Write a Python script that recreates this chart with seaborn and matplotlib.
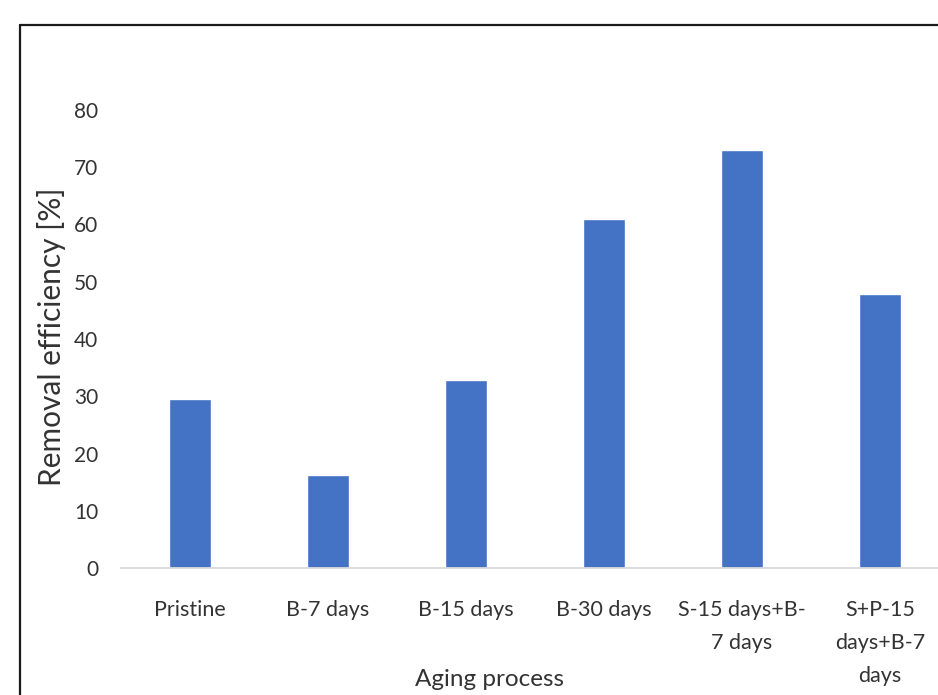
import matplotlib
matplotlib.use("Agg")
import matplotlib.pyplot as plt
from matplotlib.lines import Line2D
import seaborn as sns
import pandas as pd

categories = ["Pristine", "B-7 days", "B-15 days", "B-30 days",
              "S-15 days+B-\n7 days", "S+P-15\ndays+B-7\ndays"]
values = [29.5, 16.2, 32.8, 60.9, 73.0, 47.9]
yticks = [0, 10, 20, 30, 40, 50, 60, 70, 80]

sns.set_theme(style="white")
plt.rcParams['font.family'] = ['Lato', 'DejaVu Sans']

W, H = 938, 695
fig = plt.figure(figsize=(W / 100, H / 100), dpi=100)
left, right, bottom, top = 121, 949, 568, 110
ax = fig.add_axes([left / W, (H - bottom) / H, (right - left) / W, (bottom - top) / H])

df = pd.DataFrame({"cat": categories, "val": values})
sns.barplot(data=df, x="cat", y="val", color="#4472C4", saturation=1,
            width=0.31, ax=ax)

ax.set_ylim(0, 80)
ax.set_xlim(-0.5, len(categories) - 0.5)
ax.set_yticks(yticks)
ax.set_yticklabels([str(t) for t in yticks], fontsize=15, color="#333333")
ax.tick_params(axis="y", length=0, pad=16.5)
ax.tick_params(axis="x", length=0, pad=23)
for lab in ax.get_xticklabels():
    lab.set_fontsize(15.5)
    lab.set_color("#333333")
    lab.set_linespacing(1.8)
    lab.set_multialignment("center")

for s in ["top", "right", "left"]:
    ax.spines[s].set_visible(False)
ax.spines["bottom"].set_color("#D9D9D9")
ax.spines["bottom"].set_linewidth(1.3)

ax.set_xlabel("Aging process", fontsize=17.5, color="#333333", va="center")
ax.xaxis.set_label_coords((489 - left) / (right - left), (bottom - 680) / (bottom - top))
ax.set_ylabel("Removal efficiency [%]", fontsize=21.5, color="#333333", va="center")
ax.yaxis.set_label_coords((52 - left) / (right - left), (bottom - 337) / (bottom - top))
ax.grid(False)

# outer chart frame (cropped at right and bottom)
fx = 19.5 / W
fy = 1 - 25 / H
fig.add_artist(Line2D([fx, fx], [-0.05, fy], transform=fig.transFigure,
                      color="#1a1a1a", linewidth=1.6))
fig.add_artist(Line2D([fx, 1.05], [fy, fy], transform=fig.transFigure,
                      color="#1a1a1a", linewidth=1.6))

fig.savefig("out.png", dpi=100, facecolor="white")
